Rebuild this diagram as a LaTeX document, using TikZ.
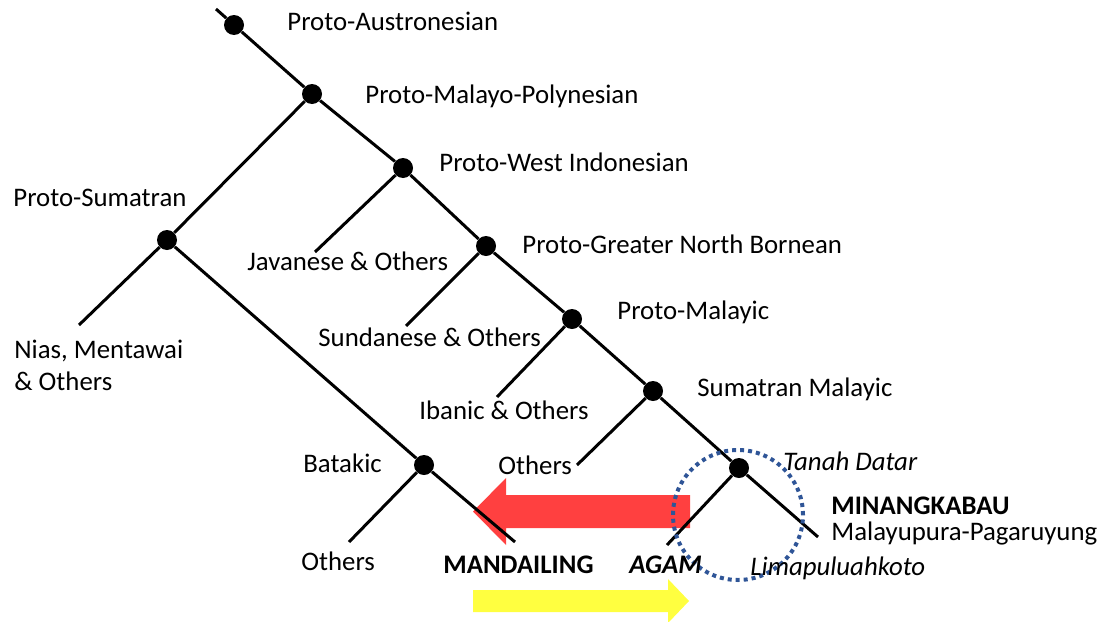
\documentclass[tikz,border=0pt]{standalone}
\usepackage{fontspec}
\setmainfont{Carlito}
\usetikzlibrary{calc}
\definecolor{arrowred}{RGB}{255,64,64}
\definecolor{arrowyellow}{RGB}{255,255,64}
\definecolor{ringblue}{RGB}{47,85,151}
\tikzstyle{branch}=[line width=1.5pt]
\tikzstyle{split}=[circle, fill=black, inner sep=0pt, minimum size=10pt]
\tikzstyle{lang}=[inner sep=0pt, anchor=base west, align=left, font=\fontsize{13.4}{16}\selectfont]
\tikzstyle{ring}=[circle, draw=ringblue, line width=2pt, dash pattern=on 2pt off 2pt, minimum size=65pt]

\begin{document}
\begin{tikzpicture}[x=0.5pt, y=-0.5pt]
\useasboundingbox (0,0) rectangle (1102,621);

% block arrows
\fill[arrowred] (690,495) -- (506,495) -- (506,478) -- (473,511.5) -- (506,545) -- (506,528) -- (690,528) -- cycle;
\fill[arrowyellow] (473,590) -- (668,590) -- (668,579) -- (689,601) -- (668,623) -- (668,612) -- (473,612) -- cycle;

% split points
\node (austro) [split] at (234,25) {};
\node (malpoly) [split] at (312,94) {};
\node (westindo) [split] at (403,168) {};
\node (bornean) [split] at (486,246) {};
\node (malayic) [split] at (572,319) {};
\node (sumalay) [split] at (653,391) {};
\node (tanah) [split] at (739,468) {};
\node (sumatran) [split] at (167,240) {};
\node (batakic) [split] at (424,465) {};

% loose ends
\coordinate (root) at (216,9);
\coordinate (minang) at (818,537);
\coordinate (nias) at (79,325);
\coordinate (javanese) at (315,252);
\coordinate (sundanese) at (406,326);
\coordinate (ibanic) at (497,397);
\coordinate (others1) at (577,465);
\coordinate (agam) at (667,545);
\coordinate (mandailing) at (515,542);
\coordinate (others2) at (349,542);

% branches
\draw[branch] (root) -- (austro) -- (malpoly) -- (westindo) -- (bornean) -- (malayic) -- (sumalay) -- (tanah) -- (minang);
\draw[branch] (malpoly) -- (sumatran) -- (nias);
\draw[branch] (sumatran) -- (batakic) -- (mandailing);
\draw[branch] (batakic) -- (others2);
\draw[branch] (westindo) -- (javanese);
\draw[branch] (bornean) -- (sundanese);
\draw[branch] (malayic) -- (ibanic);
\draw[branch] (sumalay) -- (others1);
\draw[branch] (tanah) -- (agam);

\node (ring) [ring] at (738,515) {};

% labels
\node (lbl-austro) [lang] at (287,30) {Proto-Austronesian};
\node (lbl-malpoly) [lang] at (365,103) {Proto-Malayo-Polynesian};
\node (lbl-westindo) [lang] at (439,171) {Proto-West Indonesian};
\node (lbl-sumatran) [lang] at (13,206) {Proto-Sumatran};
\node (lbl-javanese) [lang] at (247,270) {Javanese \& Others};
\node (lbl-bornean) [lang] at (522,253) {Proto-Greater North Bornean};
\node (lbl-sundanese) [lang] at (318,346) {Sundanese \& Others};
\node (lbl-malayic) [lang] at (617,319) {Proto-Malayic};
\node (lbl-nias) [lang] at (14,390) {Nias, Mentawai\\\& Others};
\node (lbl-sumalay) [lang] at (697,396) {Sumatran Malayic};
\node (lbl-ibanic) [lang] at (419,419) {Ibanic \& Others};
\node (lbl-batakic) [lang] at (303,472) {Batakic};
\node (lbl-others1) [lang] at (498,474) {Others};
\node (lbl-tanah) [lang] at (783,470) {\itshape Tanah Datar};
\node (lbl-minang) [lang] at (831,514) {\bfseries MINANGKABAU};
\node (lbl-pagaruyung) [lang] at (831,540) {Malayupura-Pagaruyung};
\node (lbl-others2) [lang] at (301,570) {Others};
\node (lbl-mandailing) [lang] at (443,573) {\bfseries MANDAILING};
\node (lbl-agam) [lang] at (629,573) {\bfseries\itshape AGAM};
\node (lbl-lima) [lang] at (750,575) {\itshape Limapuluahkoto};

\end{tikzpicture}
\end{document}
